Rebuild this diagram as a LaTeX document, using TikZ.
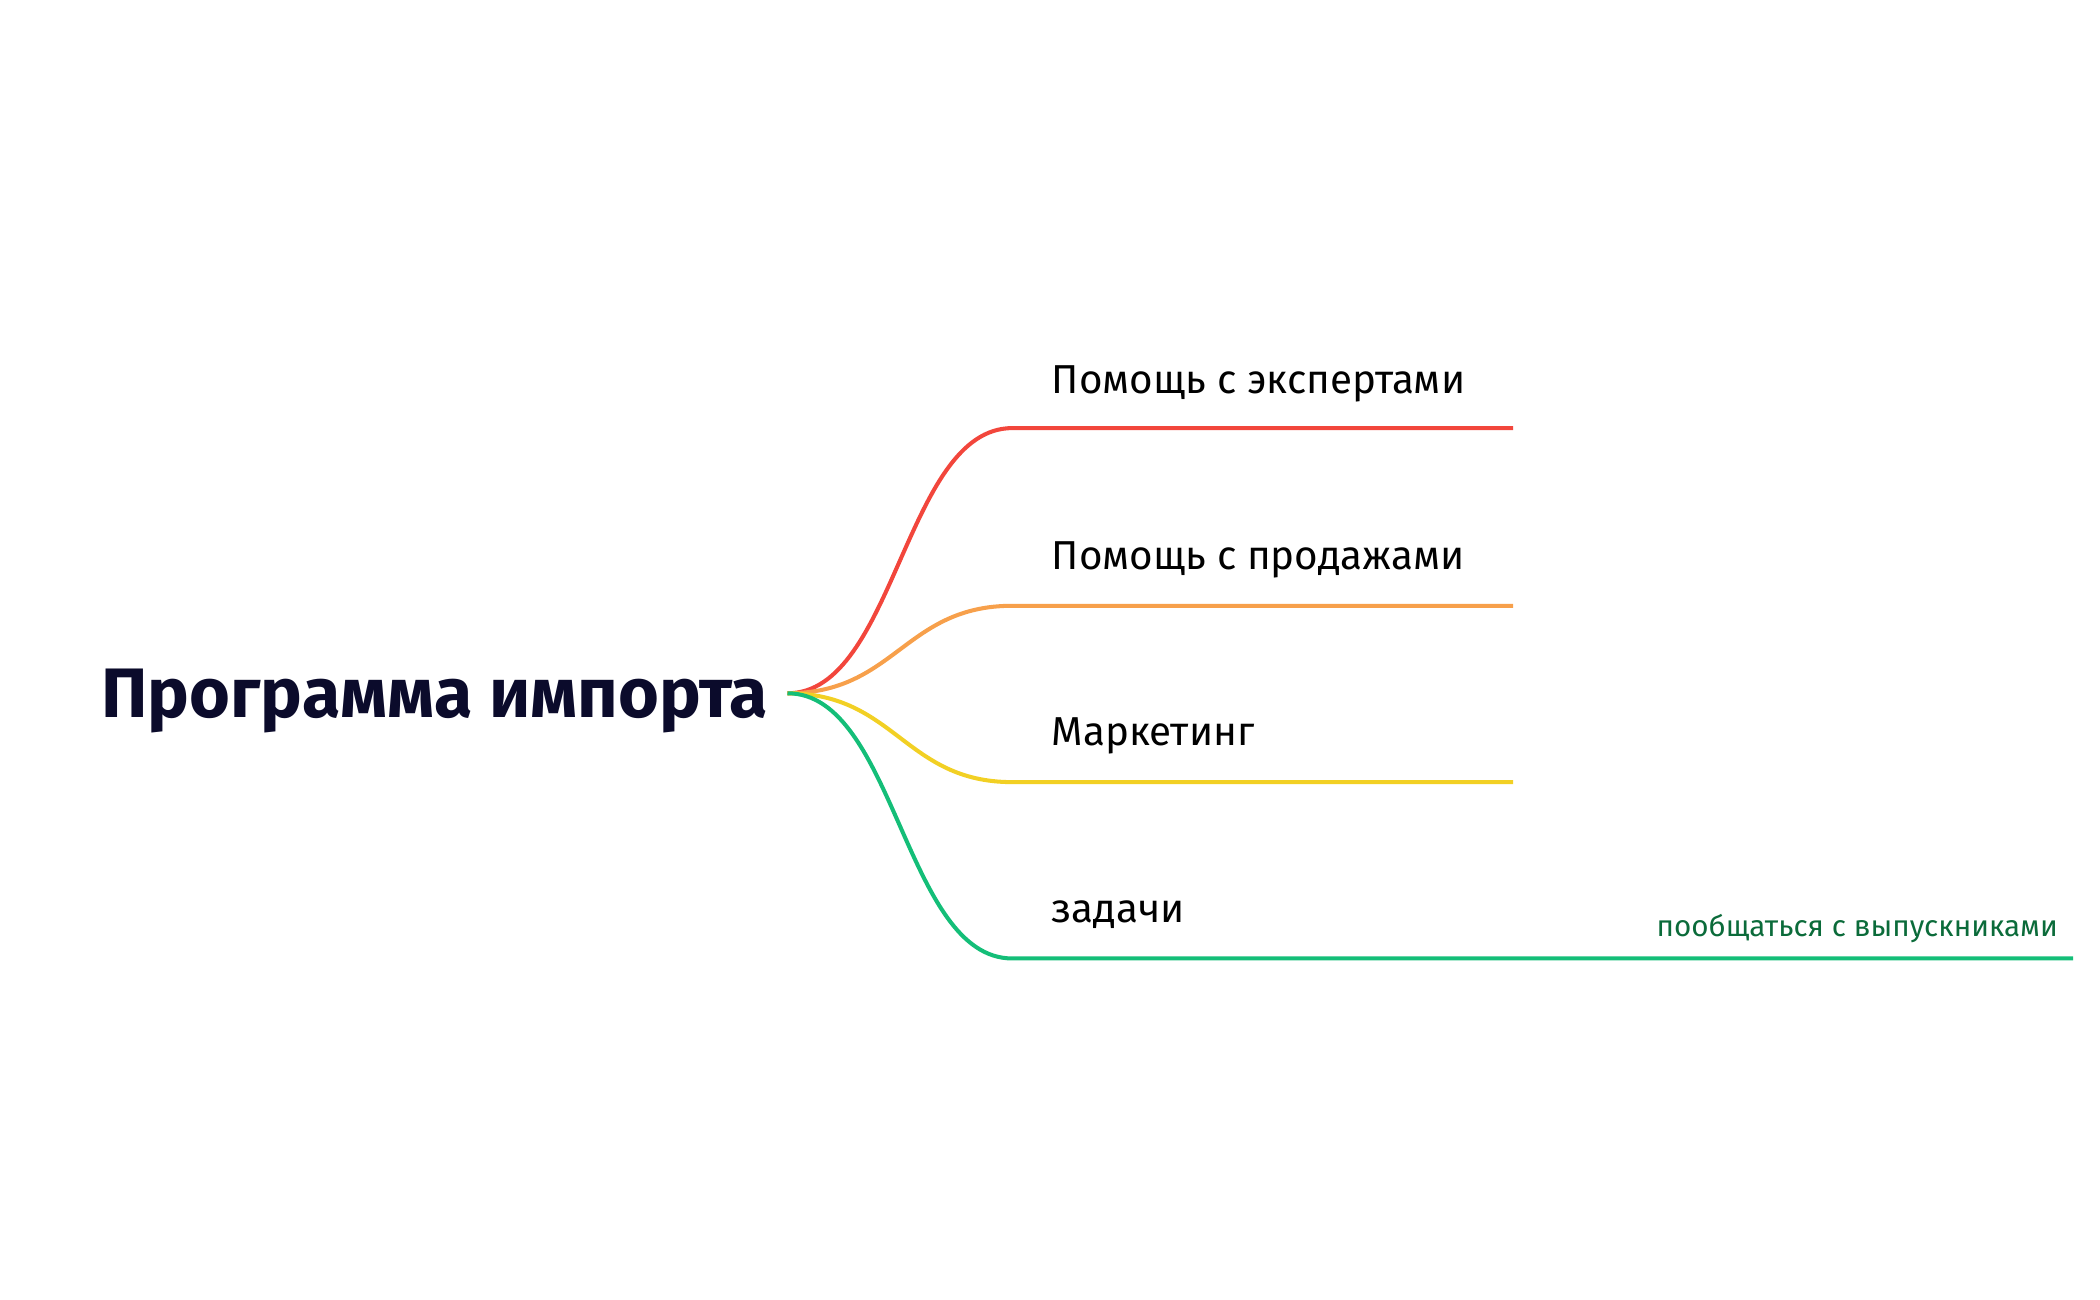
\documentclass[tikz,border=0pt]{standalone}
\usepackage{fontspec}
\setmainfont{Fira Sans}
\definecolor{cred}{HTML}{F2463C}
\definecolor{corange}{HTML}{F7A04B}
\definecolor{cyellow}{HTML}{F2D024}
\definecolor{cgreen}{HTML}{14BE78}
\definecolor{ctext}{HTML}{0B0B2B}
\definecolor{cdgreen}{HTML}{0B6B3A}
\begin{document}
\begin{tikzpicture}[x={(0.5pt,0)},y={(0,-0.5pt)},
  branch/.style={line width=1.5pt},
  lab/.style={anchor=base west,inner sep=0pt,font=\fontsize{15}{18}\selectfont\medseries,text=black},
  sublab/.style={anchor=base east,inner sep=0pt,font=\fontsize{11}{13}\selectfont,text=cdgreen}]
\providecommand\medseries{\fontseries{m}\selectfont}
\useasboundingbox (0,0) rectangle (1560,965);
\node[anchor=base west,inner sep=0pt,font=\fontsize{26}{30}\selectfont\bfseries,text=ctext] (root) at (75,533) {Программа импорта};
\coordinate (o) at (585,515);
\coordinate (a1) at (752,318); \coordinate (a2) at (1124,318);
\coordinate (b1) at (752,450); \coordinate (b2) at (1124,450);
\coordinate (c1) at (752,581); \coordinate (c2) at (1124,581);
\coordinate (d1) at (752,712); \coordinate (d2) at (1540,712);
\draw[branch,cred] (o) .. controls (665,515) and (672,318) .. (a1) -- (a2);
\draw[branch,corange] (o) .. controls (665,515) and (672,450) .. (b1) -- (b2);
\draw[branch,cyellow] (o) .. controls (665,515) and (672,581) .. (c1) -- (c2);
\draw[branch,cgreen] (o) .. controls (665,515) and (672,712) .. (d1) -- (d2);
\node[lab] (l1) at (781,292) {Помощь с экспертами};
\node[lab] (l2) at (781,423) {Помощь с продажами};
\node[lab] (l3) at (781,554) {Маркетинг};
\node[lab] (l4) at (781,685) {задачи};
\node[sublab] (l5) at (1529,696) {пообщаться с выпускниками};
\end{tikzpicture}
\end{document}
